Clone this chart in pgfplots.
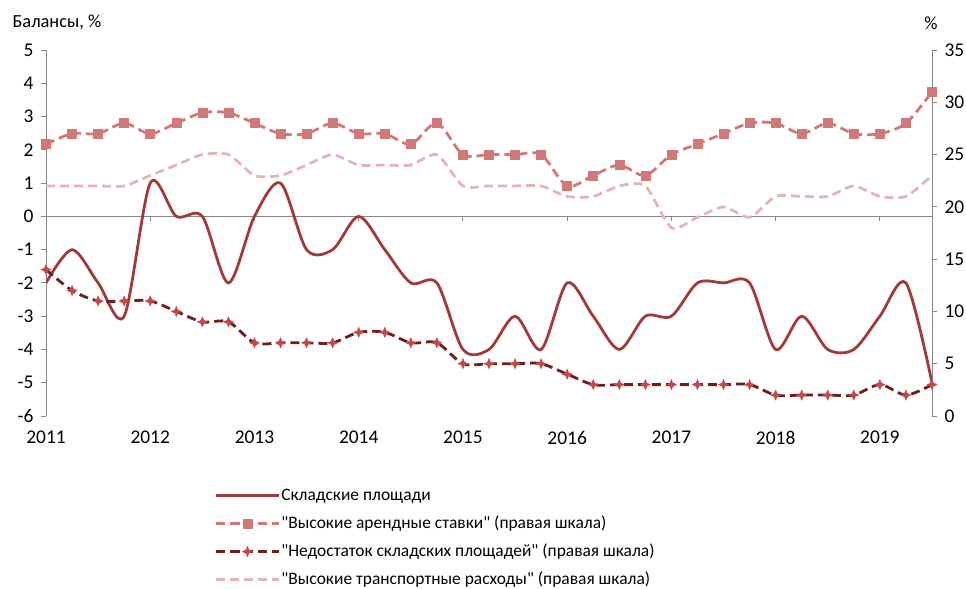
\documentclass[border=0pt]{standalone}
\usepackage{fontspec}
\setmainfont{Carlito}[Ligatures=TeXOff]
\usepackage{pgfplots}
\pgfplotsset{compat=1.18}
\usepackage{pgfplotstable}

\definecolor{whred}{HTML}{A33A3A}
\definecolor{rentc}{HTML}{D27878}
\definecolor{shortl}{HTML}{6E1E1E}
\definecolor{shortm}{HTML}{C64848}
\definecolor{transc}{HTML}{E3B5B5}
\definecolor{axgray}{HTML}{868686}

\pgfdeclareplotmark{star4}{%
  \pgfpathmoveto{\pgfqpoint{0pt}{\pgfplotmarksize}}%
  \pgfpathlineto{\pgfqpoint{0.3\pgfplotmarksize}{0.3\pgfplotmarksize}}%
  \pgfpathlineto{\pgfqpoint{\pgfplotmarksize}{0pt}}%
  \pgfpathlineto{\pgfqpoint{0.3\pgfplotmarksize}{-0.3\pgfplotmarksize}}%
  \pgfpathlineto{\pgfqpoint{0pt}{-\pgfplotmarksize}}%
  \pgfpathlineto{\pgfqpoint{-0.3\pgfplotmarksize}{-0.3\pgfplotmarksize}}%
  \pgfpathlineto{\pgfqpoint{-\pgfplotmarksize}{0pt}}%
  \pgfpathlineto{\pgfqpoint{-0.3\pgfplotmarksize}{0.3\pgfplotmarksize}}%
  \pgfpathclose\pgfusepathqfillstroke}

% x = years since 2011 (quarterly)
\pgfplotstableread{
x wh rent short trans
0.00 -2 26 14 22
0.25 -1 27 12 22
0.50 -2 27 11 22
0.75 -3 28 11 22
1.00 1 27 11 23
1.25 0 28 10 24
1.50 0 29 9 25
1.75 -2 29 9 25
2.00 0 28 7 23
2.25 1 27 7 23
2.50 -1 27 7 24
2.75 -1 28 7 25
3.00 0 27 8 24
3.25 -1 27 8 24
3.50 -2 26 7 24
3.75 -2 28 7 25
4.00 -4 25 5 22
4.25 -4 25 5 22
4.50 -3 25 5 22
4.75 -4 25 5 22
5.00 -2 22 4 21
5.25 -3 23 3 21
5.50 -4 24 3 22
5.75 -3 23 3 22
6.00 -3 25 3 18
6.25 -2 26 3 19
6.50 -2 27 3 20
6.75 -2 28 3 19
7.00 -4 28 2 21
7.25 -3 27 2 21
7.50 -4 28 2 21
7.75 -4 27 2 22
8.00 -3 27 3 21
8.25 -2 28 2 21
8.50 -5 31 3 23
}\data

\begin{document}
\begin{tikzpicture}
\path[use as bounding box] (0,0) rectangle (966bp,589bp);
\pgfplotsset{
  base/.style={
    at={(46bp,173bp)}, anchor=south west,
    scale only axis, width=886bp, height=366bp,
    xmin=0, xmax=8.5,
    tick align=outside, major tick length=5bp,
    tick label style={font=\fontsize{19.5}{19.5}\selectfont},
    /pgf/number format/assume math mode=true,
    y axis line style={axgray, line width=0.9bp, -},
    ytick style={axgray, line width=0.9bp},
  }
}
\begin{axis}[base,
  ymin=-6, ymax=5, ytick={-6,...,5},
  axis y line*=left, axis x line*=bottom,
  x axis line style={draw=none},
  xtick={0,...,8}, xticklabels={2011,2012,2013,2014,2015,2016,2017,2018,2019},
  xtick style={draw=none},
  xticklabel style={yshift=-6.5bp},
  yticklabel style={xshift=-4bp},
]
\draw[axgray, line width=0.9bp] (axis cs:0,0) -- (axis cs:8.5,0);
\pgfplotsinvokeforeach{1,2,3,4,5,6,7,8}{
  \draw[axgray, line width=0.9bp] (axis cs:#1,0) -- (axis cs:#1,-0.15);
}
\addplot[whred, line width=2.8bp, smooth, tension=0.5] table[x=x, y=wh] {\data};
\end{axis}
\begin{axis}[base,
  ymin=0, ymax=35, ytick={0,5,...,35},
  axis y line*=right, axis x line=none,
  yticklabel style={xshift=4bp},
  legend style={at={(0.19,-0.191)}, anchor=north west, draw=none, fill=none,
    inner sep=0pt, font=\fontsize{17.5}{17.5}\selectfont, row sep=9bp,
    nodes={inner sep=1bp, text height=13bp, text depth=4bp},
    /tikz/every even column/.append style={column sep=6.5bp}},
  legend cell align=left,
  legend image code/.code={\draw[mark repeat=2, mark phase=2, #1] plot coordinates {(0bp,0bp) (31.5bp,0bp) (63bp,0bp)};},
]
\addlegendimage{whred, line width=2.8bp}
\addlegendentry{Складские площади}
\addplot[rentc, line width=2.8bp, dash pattern=on 9bp off 5bp, smooth, tension=0.5,
  mark=square*, mark size=4.5bp, mark options={solid, fill=rentc, draw=rentc, line width=0.5bp}]
  table[x=x, y=rent] {\data};
\addlegendentry{"Высокие арендные ставки" (правая шкала)}
\addplot[shortl, line width=2.8bp, dash pattern=on 9bp off 5bp, smooth, tension=0.5,
  mark=star4, mark size=5bp, mark options={solid, fill=shortm, draw=shortm, line width=0.5bp}]
  table[x=x, y=short] {\data};
\addlegendentry{"Недостаток складских площадей" (правая шкала)}
\addplot[transc, line width=2.8bp, dash pattern=on 9bp off 5bp, smooth, tension=0.4]
  table[x=x, y=trans] {\data};
\addlegendentry{"Высокие транспортные расходы" (правая шкала)}
\end{axis}
\node[anchor=west, font=\fontsize{18.5}{18.5}\selectfont] at (9bp,567bp) {Балансы, \%};
\node[font=\fontsize{18.5}{18.5}\selectfont] at (931bp,566bp) {\%};
\end{tikzpicture}
\end{document}
